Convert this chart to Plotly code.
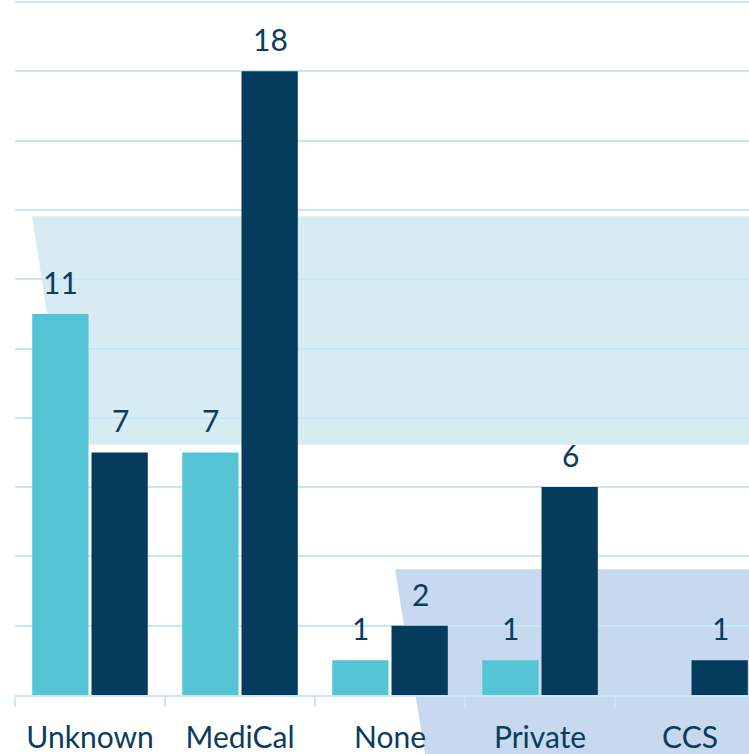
import plotly.graph_objects as go

categories = ["Unknown", "MediCal", "None", "Private", "CCS"]
series_a = [11, 7, 1, 1, 0]
series_b = [7, 18, 2, 6, 1]

LIGHT = "#55C5D5"
DARK = "#053B5C"
TEXT = "#0B3C5D"
GRID = "#C8E7F6"
FONT = "Lato"

fig = go.Figure()
fig.add_trace(go.Bar(x=categories, y=series_a, marker_color=LIGHT, marker_line_width=0, name="A"))
fig.add_trace(go.Bar(x=categories, y=series_b, marker_color=DARK, marker_line_width=0, name="B"))

# value labels
for vals, shift in ((series_a, -29.5), (series_b, 30.5)):
    for c, v in zip(categories, vals):
        if v == 0:
            continue
        fig.add_annotation(x=c, y=v, text=str(v), showarrow=False, xshift=shift,
                           yanchor="bottom", yshift=12,
                           font=dict(family=FONT, size=30, color=TEXT))

# decorative background shapes (paper coords)
fig.add_shape(type="path", xref="paper", yref="paper", layer="below",
              path="M 0.0232 0.6887 L 1.05 0.6887 L 1.05 0.3601 L 0.0708 0.3601 Z",
              fillcolor="#D6EBF2", line_width=0)
fig.add_shape(type="path", xref="paper", yref="paper", layer="below",
              path="M 0.5177 0.1808 L 1.05 0.1808 L 1.05 -0.1 L 0.561 -0.1 Z",
              fillcolor="#C6D9EE", line_width=0)

fig.update_layout(
    width=749, height=754,
    margin=dict(l=15, r=0, t=0, b=55),
    paper_bgcolor="white", plot_bgcolor="rgba(0,0,0,0)",
    barmode="group", bargap=0.21, bargroupgap=0.05,
    showlegend=False,
    font=dict(family=FONT, color=TEXT),
)
fig.update_xaxes(type="category", range=[-0.5, 4.393], tickson="boundaries",
                 ticks="outside", ticklen=10, tickcolor=GRID, tickwidth=2,
                 showline=True, linecolor=GRID, linewidth=2, showgrid=False,
                 tickfont=dict(family=FONT, size=30, color=TEXT), ticklabelstandoff=15)
fig.update_yaxes(range=[0, 20.06], dtick=2, showgrid=True, gridcolor=GRID, gridwidth=2,
                 showticklabels=False, zeroline=False, showline=False)

fig.write_html("out.html", config={"displayModeBar": False},
               post_script="document.body.style.margin='0';document.body.style.overflow='hidden';")
